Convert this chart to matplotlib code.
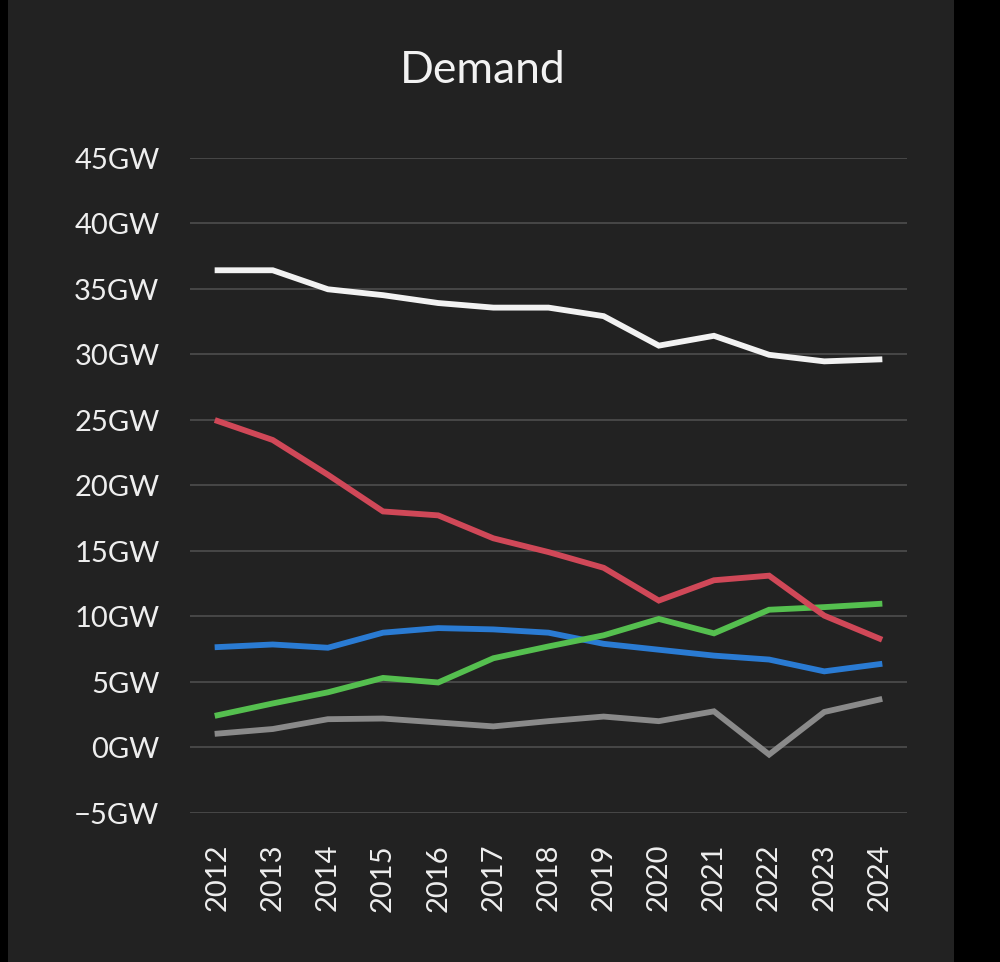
import matplotlib
matplotlib.use("Agg")
import matplotlib.pyplot as plt
from matplotlib.patches import Rectangle

plt.rcParams['font.family'] = ['Lato', 'DejaVu Sans']

years = [str(y) for y in range(2012, 2025)]

# values, in GW
total = [36.4, 36.4, 34.95, 34.5, 33.9, 33.55, 33.55, 32.9, 30.65, 31.4, 29.95, 29.45, 29.6]
red = [24.9, 23.45, 20.8, 18.0, 17.7, 15.95, 14.9, 13.7, 11.2, 12.75, 13.1, 10.05, 8.3]
green = [2.45, 3.35, 4.2, 5.3, 4.95, 6.8, 7.7, 8.55, 9.8, 8.7, 10.5, 10.7, 10.95]
blue = [7.65, 7.85, 7.6, 8.75, 9.1, 9.0, 8.75, 7.9, 7.45, 7.0, 6.7, 5.8, 6.35]
gray = [1.05, 1.4, 2.15, 2.2, 1.9, 1.6, 2.0, 2.35, 2.0, 2.75, -0.55, 2.7, 3.65]

yticks = [-5, 0, 5, 10, 15, 20, 25, 30, 35, 40, 45]

bg = '#222222'
fig = plt.figure(figsize=(10, 9.625), dpi=100, facecolor='black')
# dark panel with black strips at the sides
fig.add_artist(Rectangle((0.008, 0), 0.946, 1, transform=fig.transFigure,
                         facecolor=bg, edgecolor='none', zorder=-10))

ax = fig.add_axes([0.19, 0.1549, 0.717, 0.6809])
ax.set_facecolor(bg)

x = list(range(len(years)))
for vals, col in [(gray, '#8a8a8a'), (blue, '#2a7bd3'), (green, '#55bf4f'),
                  (red, '#d04858'), (total, '#f2f2f2')]:
    ax.plot(x, vals, color=col, lw=4.2, solid_joinstyle='miter', clip_on=False)

ax.set_xlim(-0.5, len(years) - 0.5)
ax.set_ylim(-5, 45)
ax.set_yticks(yticks)
ax.set_yticklabels([('\u2212' if v < 0 else '') + f'{abs(v)}GW' for v in yticks])
ax.set_xticks(x)
ax.set_xticklabels(years, rotation=90)

ax.grid(axis='y', color='#4a4a4a', lw=1.3)
ax.set_axisbelow(True)
ax.tick_params(axis='both', length=0, colors='#eeeeee', labelsize=21)
ax.tick_params(axis='y', pad=22)
ax.tick_params(axis='x', pad=22)
for s in ax.spines.values():
    s.set_visible(False)

fig.text(0.483, 0.927, 'Demand', ha='center', va='center', fontsize=32, color='#f2f2f2')

fig.savefig('out.png', dpi=100, facecolor='black')
